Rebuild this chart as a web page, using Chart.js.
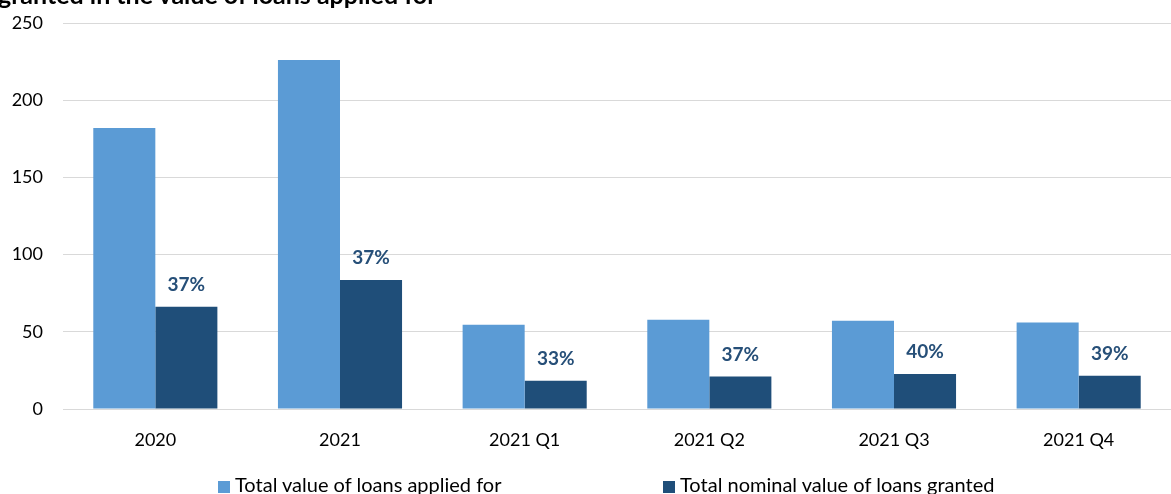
<!DOCTYPE html>
<html>
<head>
<meta charset="utf-8">
<script src="https://cdn.jsdelivr.net/npm/chart.js@4"></script>
<style>
    html, body { margin: 0; padding: 0; background: #fff; overflow: hidden; }
    #wrap { position: relative; width: 1171px; height: 494px; }
    #title {
        position: absolute; left: -2px; top: -18px;
        font: bold 25px Lato, sans-serif; line-height: 25px; color: #000;
        white-space: nowrap;
    }
    .legend-item {
        position: absolute; top: 474px;
        font: 20px Lato, sans-serif; line-height: 20px; color: #000; white-space: nowrap;
    }
    .legend-item span.box {
        display: inline-block; width: 12px; height: 12px; margin-right: 5px; vertical-align: -1px;
    }
</style>
</head>
<body>
<div id="wrap">
    <canvas id="chart" width="1171" height="494"></canvas>
    <div id="title">granted in the value of loans applied for</div>
    <div class="legend-item" style="left:218px"><span class="box" style="background:#5B9BD5"></span>Total value of loans applied for</div>
    <div class="legend-item" style="left:663px"><span class="box" style="background:#1F4E79"></span>Total nominal value of loans granted</div>
</div>
<script>
    // values
    const categories = ['2020', '2021', '2021 Q1', '2021 Q2', '2021 Q3', '2021 Q4'];
    const appliedValues = [182, 226, 54.5, 57.8, 57.1, 56.0];
    const grantedValues = [66.3, 83.5, 18.3, 21.1, 22.6, 21.6];
    const shareLabels = ['37%', '37%', '33%', '37%', '40%', '39%'];
    const seriesNames = ['Total value of loans applied for', 'Total nominal value of loans granted'];

    // draws the share labels above the dark bars
    const shareLabelPlugin = {
        id: 'shareLabels',
        afterDatasetsDraw(chart) {
            const ctx = chart.ctx;
            const meta = chart.getDatasetMeta(1);
            ctx.save();
            ctx.font = 'bold 19px Lato, sans-serif';
            ctx.fillStyle = '#264F78';
            ctx.textAlign = 'center';
            ctx.textBaseline = 'middle';
            meta.data.forEach((bar, i) => {
                ctx.fillText(shareLabels[i], bar.x, bar.y - 22);
            });
            ctx.restore();
        }
    };

    const ctx = document.getElementById('chart').getContext('2d');
    new Chart(ctx, {
        type: 'bar',
        data: {
            labels: categories,
            datasets: [{
                label: seriesNames[0],
                data: appliedValues,
                backgroundColor: '#5B9BD5',
                categoryPercentage: 0.672,
                barPercentage: 1
            }, {
                label: seriesNames[1],
                data: grantedValues,
                backgroundColor: '#1F4E79',
                categoryPercentage: 0.672,
                barPercentage: 1
            }]
        },
        options: {
            responsive: false,
            animation: false,
            layout: { padding: { top: 23, right: 0, left: 0, bottom: 0 } },
            plugins: {
                legend: { display: false },
                tooltip: { enabled: false }
            },
            scales: {
                x: {
                    grid: { display: false },
                    border: { color: '#d9d9d9', width: 1 },
                    ticks: {
                        color: '#000',
                        font: { family: 'Lato', size: 18 },
                        padding: 12,
                        maxRotation: 0
                    },
                    afterFit(scale) { scale.height = 85; }
                },
                y: {
                    min: 0,
                    max: 250,
                    grid: { color: '#d9d9d9', lineWidth: 1, drawTicks: false },
                    border: { display: false },
                    ticks: {
                        stepSize: 50,
                        color: '#000',
                        font: { family: 'Lato', size: 18 },
                        padding: 20
                    },
                    afterFit(scale) {
                        scale.width = 63;
                        // tick padding would otherwise push the plot top down
                        scale.paddingTop = 11;
                        scale.paddingBottom = 11;
                    }
                }
            }
        },
        plugins: [shareLabelPlugin]
    });
</script>
</body>
</html>
